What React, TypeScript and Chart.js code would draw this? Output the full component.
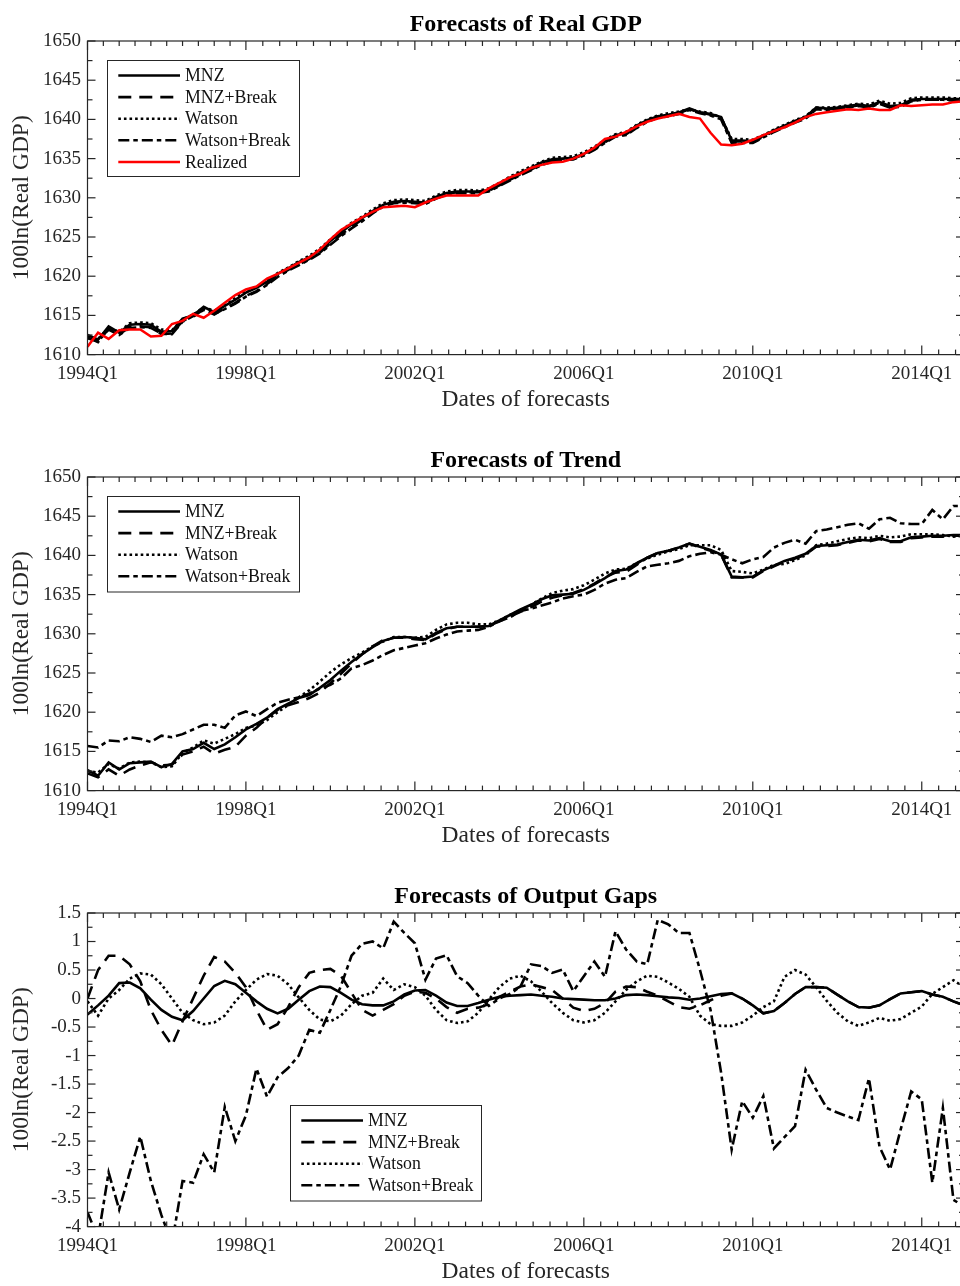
import React, { useEffect, useRef } from "react";
import { Chart, registerables } from "chart.js";

Chart.register(...registerables);

const SERIF = '"Liberation Serif", "Times New Roman", Times, serif';
const AXIS_COLOR = "#262626";

// ---------- axes ----------
const QUARTER_INDEX: number[] = Array.from({ length: 84 }, (_, k) => k + 1);
const X_TICK_POS = [1, 16, 32, 48, 64, 80];
const X_TICK_LABELS = ["1994Q1", "1998Q1", "2002Q1", "2006Q1", "2010Q1", "2014Q1"];
const PANEL_TITLES = ["Forecasts of Real GDP", "Forecasts of Trend", "Forecasts of Output Gaps"];
const Y_TITLE = "100ln(Real GDP)";
const X_TITLE = "Dates of forecasts";
const SERIES_NAMES = ["MNZ", "MNZ+Break", "Watson", "Watson+Break"];
const REALIZED_NAME = "Realized";

// ---------- panel 1: forecasts of real GDP ----------
const GDP_REALIZED = [
  1611.0, 1612.8, 1612.0, 1613.1, 1613.2, 1613.2, 1612.3, 1612.4, 1613.9, 1614.3,
  1615.2, 1614.7, 1615.6, 1616.6, 1617.6, 1618.3, 1618.7, 1619.7, 1620.3, 1621.0,
  1621.7, 1622.4, 1623.4, 1624.7, 1625.9, 1626.7, 1627.5, 1628.2, 1628.8, 1628.9,
  1629.0, 1628.8, 1629.4, 1629.9, 1630.3, 1630.3, 1630.3, 1630.3, 1631.2, 1631.9,
  1632.6, 1633.1, 1633.8, 1634.2, 1634.5, 1634.6, 1635.0, 1635.6, 1636.4, 1637.5,
  1637.8, 1638.4, 1639.1, 1639.7, 1640.1, 1640.4, 1640.7, 1640.3, 1640.1, 1638.3,
  1636.8, 1636.7, 1636.9, 1637.4, 1638.0, 1638.5, 1639.0, 1639.6, 1640.3, 1640.7,
  1640.9, 1641.1, 1641.3, 1641.2, 1641.4, 1641.2, 1641.2, 1641.8, 1641.7, 1641.8,
  1641.9, 1641.9, 1642.2, 1642.3,
];
const GDP_MNZ = [
  1612.5, 1611.9, 1613.6, 1612.8, 1613.8, 1613.9, 1613.8, 1612.9, 1613.0, 1614.6,
  1615.0, 1616.1, 1615.4, 1616.2, 1617.0, 1617.9, 1618.5, 1619.3, 1620.3, 1621.0,
  1621.8, 1622.4, 1623.3, 1624.5, 1625.6, 1626.6, 1627.4, 1628.3, 1629.1, 1629.5,
  1629.6, 1629.5, 1629.4, 1630.1, 1630.6, 1630.8, 1630.8, 1630.8, 1631.0, 1631.8,
  1632.5, 1633.2, 1633.8, 1634.5, 1634.9, 1635.0, 1635.1, 1635.6, 1636.3, 1637.2,
  1638.0, 1638.2, 1639.2, 1639.9, 1640.4, 1640.6, 1640.9, 1641.4, 1640.9, 1640.7,
  1640.3, 1637.3, 1637.3, 1637.2, 1637.9, 1638.6, 1639.2, 1639.8, 1640.3, 1641.5,
  1641.4, 1641.5, 1641.7, 1641.9, 1641.7, 1642.2, 1641.7, 1641.8, 1642.5, 1642.6,
  1642.6, 1642.6, 1642.6, 1642.6,
];
const GDP_MNZ_BREAK = [
  1612.2, 1611.6, 1613.3, 1612.6, 1613.5, 1613.6, 1613.5, 1612.6, 1612.7, 1614.3,
  1614.8, 1615.8, 1615.1, 1615.9, 1616.6, 1617.5, 1618.1, 1619.0, 1620.0, 1620.8,
  1621.5, 1622.2, 1623.0, 1624.2, 1625.3, 1626.3, 1627.2, 1628.1, 1629.0, 1629.4,
  1629.5, 1629.4, 1629.3, 1630.0, 1630.5, 1630.7, 1630.7, 1630.7, 1630.9, 1631.6,
  1632.3, 1633.0, 1633.6, 1634.3, 1634.7, 1634.9, 1635.0, 1635.5, 1636.2, 1637.1,
  1637.9, 1638.1, 1639.0, 1639.8, 1640.3, 1640.5, 1640.8, 1641.3, 1640.9, 1640.6,
  1640.2, 1637.2, 1637.2, 1637.1, 1637.8, 1638.5, 1639.1, 1639.7, 1640.2, 1641.4,
  1641.3, 1641.4, 1641.6, 1641.8, 1641.6, 1642.1, 1641.6, 1641.7, 1642.4, 1642.5,
  1642.5, 1642.5, 1642.5, 1642.5,
];
const GDP_WATSON = [
  1612.4, 1612.0, 1613.4, 1612.9, 1614.0, 1614.1, 1614.0, 1613.2, 1613.1, 1614.5,
  1615.1, 1616.0, 1615.6, 1616.3, 1617.2, 1618.2, 1618.6, 1619.4, 1620.4, 1621.1,
  1621.9, 1622.6, 1623.5, 1624.7, 1625.8, 1626.8, 1627.6, 1628.5, 1629.3, 1629.7,
  1629.8, 1629.7, 1629.6, 1630.3, 1630.8, 1631.0, 1631.0, 1630.9, 1631.2, 1631.9,
  1632.7, 1633.4, 1634.0, 1634.6, 1635.1, 1635.2, 1635.3, 1635.8, 1636.5, 1637.4,
  1638.1, 1638.4, 1639.3, 1640.0, 1640.5, 1640.8, 1641.0, 1641.3, 1641.0, 1640.8,
  1640.2, 1637.5, 1637.5, 1637.4, 1638.0, 1638.7, 1639.3, 1639.9, 1640.4, 1641.5,
  1641.5, 1641.6, 1641.8, 1642.0, 1641.9, 1642.4, 1642.0, 1642.1, 1642.7, 1642.8,
  1642.8, 1642.8, 1642.7, 1642.7,
];
const GDP_WATSON_BREAK = [
  1612.1, 1611.7, 1613.2, 1612.5, 1613.4, 1613.5, 1613.4, 1612.7, 1612.6, 1614.2,
  1614.9, 1615.7, 1615.2, 1615.8, 1616.5, 1617.4, 1618.0, 1618.9, 1619.9, 1620.7,
  1621.4, 1622.1, 1622.9, 1624.0, 1625.1, 1626.1, 1627.0, 1628.0, 1628.9, 1629.3,
  1629.4, 1629.3, 1629.2, 1629.9, 1630.4, 1630.6, 1630.6, 1630.6, 1630.8, 1631.5,
  1632.2, 1632.9, 1633.5, 1634.2, 1634.6, 1634.8, 1634.9, 1635.4, 1636.1, 1637.0,
  1637.8, 1638.0, 1638.9, 1639.7, 1640.2, 1640.4, 1640.7, 1641.2, 1640.8, 1640.5,
  1640.0, 1637.0, 1637.0, 1637.0, 1637.7, 1638.4, 1639.0, 1639.6, 1640.1, 1641.3,
  1641.2, 1641.3, 1641.5, 1641.7, 1641.5, 1642.0, 1641.5, 1641.6, 1642.3, 1642.5,
  1642.5, 1642.5, 1642.4, 1642.4,
];

// ---------- panel 2: forecasts of trend ----------
const TREND_MNZ = [
  1612.6, 1611.9, 1613.6, 1612.7, 1613.5, 1613.6, 1613.7, 1613.0, 1613.4, 1615.0,
  1615.3, 1616.1, 1615.3, 1615.9, 1616.8, 1617.8, 1618.5, 1619.3, 1620.4, 1621.1,
  1621.8, 1622.2, 1623.1, 1624.1, 1625.3, 1626.4, 1627.4, 1628.3, 1629.1, 1629.5,
  1629.6, 1629.5, 1629.3, 1630.1, 1630.7, 1630.9, 1630.9, 1630.9, 1631.0, 1631.7,
  1632.4, 1633.1, 1633.7, 1634.4, 1634.9, 1635.0, 1635.1, 1635.6, 1636.3, 1637.1,
  1638.0, 1638.2, 1639.0, 1639.7, 1640.3, 1640.6, 1641.0, 1641.5, 1641.1, 1640.7,
  1640.1, 1637.3, 1637.2, 1637.3, 1638.1, 1638.7, 1639.3, 1639.7, 1640.2, 1641.2,
  1641.3, 1641.4, 1641.7, 1642.0, 1641.9, 1642.2, 1641.8, 1641.8, 1642.3, 1642.4,
  1642.5, 1642.5, 1642.6, 1642.6,
];
const TREND_MNZ_BREAK = [
  1612.2, 1611.7, 1612.7, 1611.9, 1612.7, 1613.2, 1613.6, 1613.2, 1613.3, 1614.6,
  1615.0, 1615.6, 1614.7, 1615.2, 1615.6, 1617.0, 1618.0, 1619.3, 1620.3, 1620.9,
  1621.3, 1621.8, 1622.5, 1623.7, 1624.9, 1626.2, 1627.4, 1628.4, 1629.2, 1629.5,
  1629.5, 1629.3, 1629.2, 1630.0, 1630.6, 1630.9, 1630.9, 1630.9, 1631.0, 1631.6,
  1632.2, 1632.8, 1633.4, 1634.1, 1634.6, 1634.9, 1635.2, 1635.7, 1636.4, 1637.2,
  1637.8, 1637.9, 1638.8, 1639.7, 1640.3, 1640.6, 1641.0, 1641.5, 1641.0, 1640.6,
  1640.1, 1637.2, 1637.2, 1637.2, 1638.0, 1638.6, 1639.2, 1639.6, 1640.1, 1641.1,
  1641.2, 1641.3, 1641.6, 1641.9, 1641.8, 1642.1, 1641.7, 1641.7, 1642.2, 1642.3,
  1642.4, 1642.4, 1642.5, 1642.5,
];
const TREND_WATSON = [
  1612.5, 1612.3, 1613.4, 1612.8, 1613.6, 1613.7, 1613.6, 1613.0, 1613.1, 1614.8,
  1615.5, 1616.4, 1616.0, 1616.6, 1617.2, 1618.0, 1618.3, 1619.0, 1620.0, 1620.9,
  1621.9, 1622.8, 1623.9, 1625.1, 1626.1, 1626.9, 1627.6, 1628.4, 1629.0, 1629.6,
  1629.6, 1629.5, 1629.6, 1630.5, 1631.2, 1631.4, 1631.4, 1631.2, 1631.2, 1631.7,
  1632.4, 1633.0, 1633.7, 1634.5, 1635.2, 1635.5, 1635.7, 1636.2, 1636.9, 1637.7,
  1638.2, 1638.3, 1639.0, 1639.6, 1640.1, 1640.5, 1640.8, 1641.3, 1641.3, 1641.3,
  1640.7, 1638.0, 1637.9, 1637.7, 1638.2, 1638.8, 1638.9, 1639.4, 1640.0, 1641.3,
  1641.5, 1641.8, 1642.1, 1642.3, 1642.2, 1642.5, 1642.3, 1642.4, 1642.7, 1642.7,
  1642.7, 1642.6, 1642.4, 1642.5,
];
const TREND_WATSON_BREAK = [
  1615.7, 1615.5, 1616.4, 1616.3, 1616.8, 1616.6, 1616.2, 1617.0, 1616.8, 1617.2,
  1617.8, 1618.4, 1618.4, 1618.0, 1619.6, 1620.1, 1619.5, 1620.4, 1621.2, 1621.6,
  1621.9, 1622.4, 1623.0, 1623.5, 1624.3, 1625.6, 1626.0, 1626.6, 1627.3, 1627.9,
  1628.2, 1628.5, 1628.8, 1629.4, 1629.9, 1630.3, 1630.4, 1630.5, 1630.9, 1631.6,
  1632.1, 1632.9, 1633.2, 1633.6, 1634.0, 1634.5, 1634.8, 1635.0, 1635.6, 1636.4,
  1636.9, 1637.1, 1637.9, 1638.6, 1638.8, 1639.0, 1639.3, 1639.9, 1640.2, 1640.4,
  1640.1, 1639.5, 1639.0, 1639.5, 1639.8, 1641.0, 1641.6, 1642.0, 1641.5, 1643.1,
  1643.3, 1643.6, 1643.9, 1644.1, 1643.4, 1644.6, 1644.8, 1644.1, 1644.0, 1644.0,
  1645.8, 1644.6, 1646.3, 1646.3,
];

// ---------- panel 3: forecasts of output gaps ----------
const GAP_MNZ = [
  -0.28, -0.12, 0.05, 0.27, 0.28, 0.18, -0.02, -0.2, -0.32, -0.38,
  -0.22, 0.0, 0.22, 0.31, 0.25, 0.1, -0.05, -0.18, -0.26, -0.18,
  -0.02, 0.13, 0.21, 0.2, 0.1, -0.02, -0.1, -0.12, -0.12, -0.05,
  0.07, 0.14, 0.15, 0.05, -0.07, -0.13, -0.13, -0.08, -0.02, 0.03,
  0.05, 0.06, 0.07, 0.05, 0.03, 0.0, -0.01, -0.02, -0.03, -0.03,
  0.0, 0.06, 0.07, 0.06, 0.04, 0.02, 0.01, -0.02, 0.0, 0.04,
  0.08, 0.09, 0.0, -0.12, -0.26, -0.22, -0.08, 0.08, 0.2, 0.2,
  0.19, 0.07, -0.05, -0.15, -0.16, -0.12, -0.01, 0.09, 0.11, 0.13,
  0.07, 0.03, -0.05, -0.12,
];
const GAP_MNZ_BREAK = [
  0.0, 0.5, 0.75, 0.75, 0.6, 0.3, -0.2, -0.55, -0.82, -0.4,
  0.0, 0.4, 0.73, 0.65, 0.45, 0.2, -0.2, -0.55, -0.45, -0.15,
  0.2, 0.45, 0.5, 0.52, 0.4, 0.1, -0.2, -0.3, -0.2, -0.1,
  0.05, 0.12, 0.1, 0.0, -0.15, -0.25, -0.18, -0.16, -0.1, 0.03,
  0.12, 0.21, 0.25, 0.2, 0.15, 0.0, -0.16, -0.22, -0.18, -0.08,
  0.12, 0.21, 0.2, 0.12, 0.05, -0.05, -0.15, -0.18, -0.12, -0.03,
  0.05, 0.09, 0.0, -0.12, -0.26, -0.22, -0.08, 0.08, 0.2, 0.2,
  0.19, 0.07, -0.05, -0.15, -0.16, -0.12, -0.01, 0.09, 0.11, 0.13,
  0.07, 0.03, -0.05, -0.12,
];
const GAP_WATSON = [
  -0.05, -0.3, 0.0, 0.15, 0.35, 0.44, 0.42, 0.25, 0.0, -0.25,
  -0.38, -0.45, -0.42, -0.3, -0.05, 0.15, 0.33, 0.43, 0.4, 0.25,
  0.02, -0.2, -0.37, -0.4, -0.3, -0.1, 0.05, 0.1, 0.35, 0.15,
  0.25, 0.2, 0.05, -0.2, -0.38, -0.43, -0.4, -0.25, -0.02, 0.2,
  0.35, 0.4, 0.3, 0.12, -0.08, -0.25, -0.38, -0.42, -0.38, -0.25,
  -0.05, 0.15, 0.3, 0.4, 0.38, 0.28, 0.17, 0.03, -0.3, -0.45,
  -0.48, -0.48, -0.42, -0.3, -0.15, -0.05, 0.38, 0.5, 0.42, 0.2,
  -0.04, -0.25, -0.4, -0.48, -0.42, -0.34, -0.39, -0.36, -0.25, -0.14,
  0.08, 0.2, 0.32, 0.2,
];
const GAP_WATSON_BREAK = [
  -3.75, -4.2, -3.05, -3.7, -3.05, -2.42, -3.2, -3.8, -4.3, -3.2,
  -3.23, -2.73, -3.05, -1.9, -2.5, -2.05, -1.23, -1.72, -1.38, -1.22,
  -1.0, -0.55, -0.6, -0.2, 0.22, 0.75, 0.96, 1.0, 0.88, 1.35,
  1.15, 0.97, 0.33, 0.7, 0.76, 0.39, 0.27, 0.05, -0.13, 0.0,
  0.08, 0.21, 0.6, 0.57, 0.45, 0.51, 0.13, 0.39, 0.65, 0.38,
  1.18, 0.86, 0.65, 0.6, 1.38, 1.3, 1.15, 1.15, 0.5, -0.2,
  -1.3, -2.65, -1.8, -2.09, -1.71, -2.63, -2.43, -2.24, -1.25, -1.6,
  -1.92, -2.0, -2.07, -2.13, -1.4, -2.6, -3.0, -2.3, -1.63, -1.77,
  -3.23, -1.92, -3.53, -3.65,
];

// ---------- styles ----------
const LINE_DASHES: number[][] = [[], [13, 8], [2.6, 3], [11, 4, 4.5, 4]];
const BLACK = "#000000";
const RED = "#ff0000";

type Series = { label: string; data: number[]; color: string; width: number; dash: number[]; order: number };
type PanelSpec = {
  title: string;
  yMin: number;
  yMax: number;
  yStep: number;
  yMinor: number;
  series: Series[];
  legend: { x: number; y: number; w: number; h: number };
};

const CANVAS_W = 1000;
const CANVAS_H = 436;

function fourSeries(arrays: number[][]): Series[] {
  return arrays.map((d, k) => ({
    label: SERIES_NAMES[k],
    data: d,
    color: BLACK,
    width: 2.6,
    dash: LINE_DASHES[k],
    order: 10 - k,
  }));
}

const PANELS: PanelSpec[] = [
  {
    title: PANEL_TITLES[0],
    yMin: 1610,
    yMax: 1650,
    yStep: 5,
    yMinor: 2.5,
    series: [
      ...fourSeries([GDP_MNZ, GDP_MNZ_BREAK, GDP_WATSON, GDP_WATSON_BREAK]),
      { label: REALIZED_NAME, data: GDP_REALIZED, color: RED, width: 2.5, dash: [], order: 0 },
    ],
    legend: { x: 107, y: 60, w: 192, h: 116 },
  },
  {
    title: PANEL_TITLES[1],
    yMin: 1610,
    yMax: 1650,
    yStep: 5,
    yMinor: 2.5,
    series: fourSeries([TREND_MNZ, TREND_MNZ_BREAK, TREND_WATSON, TREND_WATSON_BREAK]),
    legend: { x: 107, y: 60, w: 192, h: 95.5 },
  },
  {
    title: PANEL_TITLES[2],
    yMin: -4,
    yMax: 1.5,
    yStep: 0.5,
    yMinor: 0.25,
    series: fourSeries([GAP_MNZ, GAP_MNZ_BREAK, GAP_WATSON, GAP_WATSON_BREAK]),
    legend: { x: 290, y: 233, w: 191, h: 95.5 },
  },
];

function fmt(v: number): string {
  const r = Math.round(v * 1000) / 1000;
  return String(r);
}

function makeFramePlugin(spec: PanelSpec) {
  return {
    id: "matlabFrame",
    afterDraw(chart: any) {
      const { ctx, chartArea } = chart;
      const { left, right, top, bottom } = chartArea;
      const xs = chart.scales.x;
      const ys = chart.scales.y;
      ctx.save();
      ctx.setLineDash([]);
      ctx.strokeStyle = AXIS_COLOR;
      ctx.lineWidth = 1.2;
      const seg = (x1: number, y1: number, x2: number, y2: number) => {
        ctx.beginPath();
        ctx.moveTo(x1, y1);
        ctx.lineTo(x2, y2);
        ctx.stroke();
      };
      // box
      ctx.strokeRect(left, top, right - left, bottom - top);
      // x ticks (major + minor), inward on bottom and top
      const xTick = (v: number, len: number) => {
        const px = xs.getPixelForValue(v);
        seg(px, bottom, px, bottom - len);
        seg(px, top, px, top + len);
      };
      for (let k = 0; k < X_TICK_POS.length; k++) {
        xTick(X_TICK_POS[k], 9);
        const a = X_TICK_POS[k];
        const hasNext = k + 1 < X_TICK_POS.length;
        const step = hasNext ? (X_TICK_POS[k + 1] - a) / 10 : (a - X_TICK_POS[k - 1]) / 10;
        for (let j = 1; j < 10; j++) {
          const v = a + j * step;
          if (v > xs.max) break;
          xTick(v, 5);
        }
      }
      // y ticks, inward on left and right
      const n = Math.round((spec.yMax - spec.yMin) / spec.yMinor);
      for (let k = 0; k <= n; k++) {
        const v = spec.yMin + k * spec.yMinor;
        const ratio = (v - spec.yMin) / spec.yStep;
        const major = Math.abs(ratio - Math.round(ratio)) < 1e-6;
        const len = major ? 8 : 5;
        const py = ys.getPixelForValue(v);
        seg(left, py, left + len, py);
        seg(right, py, right - len, py);
      }
      // title
      ctx.fillStyle = "#000";
      ctx.font = `bold 24px ${SERIF}`;
      ctx.textAlign = "center";
      ctx.textBaseline = "alphabetic";
      ctx.fillText(spec.title, (left + right) / 2, 30.7);
      // legend
      const L = spec.legend;
      ctx.fillStyle = "#fff";
      ctx.fillRect(L.x, L.y, L.w, L.h);
      ctx.strokeStyle = AXIS_COLOR;
      ctx.lineWidth = 1;
      ctx.strokeRect(L.x + 0.5, L.y + 0.5, L.w, L.h);
      ctx.font = `17.8px ${SERIF}`;
      ctx.textAlign = "left";
      ctx.textBaseline = "middle";
      const datasets = chart.data.datasets;
      datasets.forEach((ds: any, i: number) => {
        const cy = L.y + 15.5 + i * 21.6;
        ctx.save();
        ctx.strokeStyle = ds.borderColor;
        ctx.lineWidth = ds.borderWidth;
        ctx.setLineDash(ds.borderDash || []);
        ctx.beginPath();
        ctx.moveTo(L.x + 11.3, cy);
        ctx.lineTo(L.x + 73, cy);
        ctx.stroke();
        ctx.restore();
        ctx.fillStyle = "#111";
        ctx.fillText(ds.label, L.x + 78, cy + 1);
      });
      ctx.restore();
    },
  };
}

function Panel({ spec, top }: { spec: PanelSpec; top: number }) {
  const ref = useRef<HTMLCanvasElement | null>(null);
  useEffect(() => {
    if (!ref.current) return;
    const tickFont = { family: SERIF, size: 19 };
    const titleFont = { family: SERIF, size: 23.5 };
    const chart = new Chart(ref.current, {
      type: "line",
      data: {
        labels: QUARTER_INDEX,
        datasets: spec.series.map((s) => ({
          label: s.label,
          data: s.data,
          borderColor: s.color,
          backgroundColor: s.color,
          borderWidth: s.width,
          borderDash: s.dash,
          pointRadius: 0,
          pointHoverRadius: 0,
          tension: 0,
          fill: false,
          order: s.order,
          borderJoinStyle: "miter",
        })),
      },
      options: {
        animation: false,
        responsive: false,
        devicePixelRatio: 1,
        events: [],
        layout: { padding: { left: 0, right: 36, top: 41, bottom: 0 } },
        plugins: {
          legend: { display: false },
          title: { display: false },
          tooltip: { enabled: false },
        },
        scales: {
          x: {
            type: "linear",
            min: 1,
            max: 84,
            afterBuildTicks: (scale: any) => {
              scale.ticks = X_TICK_POS.map((v) => ({ value: v }));
            },
            afterFit: (scale: any) => {
              scale.height = CANVAS_H - 354.6;
            },
            ticks: {
              autoSkip: false,
              maxRotation: 0,
              minRotation: 0,
              padding: 8,
              color: AXIS_COLOR,
              font: tickFont,
              callback: (v: any) => {
                const idx = X_TICK_POS.indexOf(Number(v));
                return idx >= 0 ? X_TICK_LABELS[idx] : "";
              },
            },
            grid: { display: false, drawTicks: false },
            border: { display: false },
            title: {
              display: true,
              text: X_TITLE,
              color: AXIS_COLOR,
              font: titleFont,
              padding: { top: 0, bottom: 22.4 },
            },
          },
          y: {
            type: "linear",
            min: spec.yMin,
            max: spec.yMax,
            afterFit: (scale: any) => {
              scale.width = 87.5;
            },
            ticks: {
              stepSize: spec.yStep,
              padding: 6.5,
              color: AXIS_COLOR,
              font: tickFont,
              callback: (v: any) => fmt(Number(v)),
            },
            grid: { display: false, drawTicks: false },
            border: { display: false },
            title: {
              display: true,
              text: Y_TITLE,
              color: AXIS_COLOR,
              font: titleFont,
              padding: { top: 7.6, bottom: 0 },
            },
          },
        },
      } as any,
      plugins: [makeFramePlugin(spec)],
    });
    return () => chart.destroy();
  }, [spec]);
  return (
    <canvas
      ref={ref}
      width={CANVAS_W}
      height={CANVAS_H}
      style={{ position: "absolute", left: 0, top, width: CANVAS_W, height: CANVAS_H, display: "block" }}
    />
  );
}

export default function App() {
  return (
    <div
      style={{
        position: "absolute",
        left: 0,
        top: 0,
        width: 960,
        height: 1286,
        overflow: "hidden",
        background: "#ffffff",
      }}
    >
      {PANELS.map((p, k) => (
        <Panel key={k} spec={p} top={k * 436} />
      ))}
    </div>
  );
}
